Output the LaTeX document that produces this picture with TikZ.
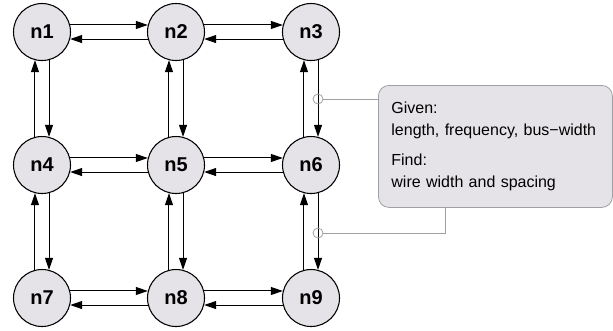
\documentclass[tikz,border=0pt]{standalone}
\usepackage{fontspec}
\setmainfont{Liberation Sans}
\usetikzlibrary{arrows.meta}
\definecolor{meshfill}{HTML}{E6E3E8}
\definecolor{notegray}{HTML}{A0A0A0}
\tikzset{
  mesh/.style={circle, draw, line width=0.8pt, fill=meshfill, minimum size=42.75pt,
    inner sep=0pt, font=\bfseries\fontsize{15}{17}\selectfont},
  link/.style={-{Triangle[length=9pt,width=6pt]}, line width=0.75pt},
  tap/.style={circle, draw=notegray, line width=0.6pt, minimum size=7.5pt, inner sep=0pt},
  notebox/.style={draw=notegray, line width=0.6pt, fill=meshfill, rounded corners=8pt,
    anchor=north west, align=left, text width=156pt, inner xsep=9.75pt,
    minimum height=91.5pt, font=\fontsize{12}{16}\selectfont},
}
\begin{document}
\begin{tikzpicture}[x=0.75pt, y=-0.75pt]
 \useasboundingbox (0,0) rectangle (613,330);
%
 \node[mesh] (n1) at (42,32) {n1};
 \node[mesh] (n2) at (176,32) {n2};
 \node[mesh] (n3) at (311,32) {n3};
 \node[mesh] (n4) at (42,165) {n4};
 \node[mesh] (n5) at (176,165) {n5};
 \node[mesh] (n6) at (311,165) {n6};
 \node[mesh] (n7) at (42,298) {n7};
 \node[mesh] (n8) at (176,298) {n8};
 \node[mesh] (n9) at (311,298) {n9};
%
 \foreach \a/\b in {n1/n2, n2/n3, n4/n5, n5/n6, n7/n8, n8/n9} {
   \draw[link] (\a.14) -- (\b.166);
   \draw[link] (\b.194) -- (\a.346);
 }
 \foreach \a/\b in {n1/n4, n2/n5, n3/n6, n4/n7, n5/n8, n6/n9} {
   \draw[link] (\a.284) -- (\b.76);
   \draw[link] (\b.104) -- (\a.256);
 }
%
 \node[notebox] (note) at (378,85) {Given:\\ length, frequency, bus−width\\[7pt] Find:\\ wire width and spacing};
 \node[tap] (tapA) at (318,99) {};
 \node[tap] (tapB) at (318,233) {};
 \coordinate (bend) at (445,233);
 \draw[notegray, line width=0.6pt] (tapA.east) -- (tapA.east -| note.west);
 \draw[notegray, line width=0.6pt] (tapB.east) -- (bend) -- (bend |- note.south);
\end{tikzpicture}
\end{document}
